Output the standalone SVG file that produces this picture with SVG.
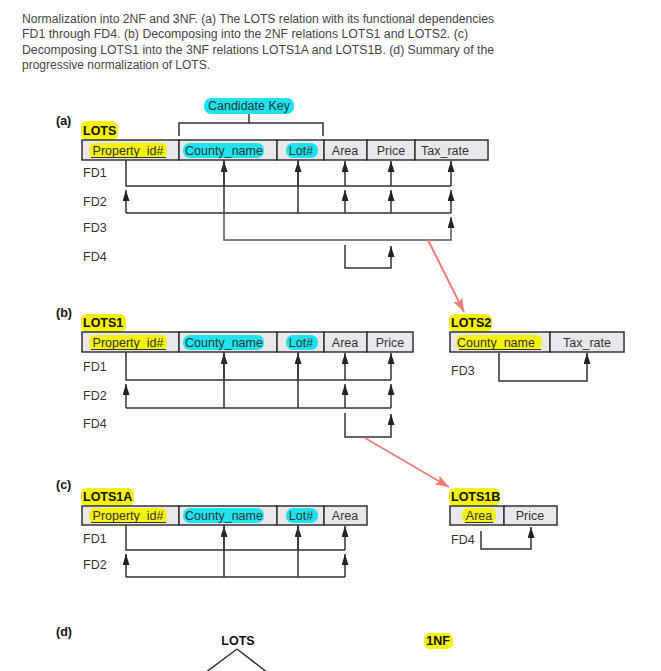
<svg xmlns="http://www.w3.org/2000/svg" width="661" height="671" viewBox="0 0 661 671">
<defs>
<style>
text{font-family:"Liberation Sans",Arial,sans-serif;fill:#333}
.cap{font-size:12px;fill:#444}
.lbl{font-size:12.5px}
.b{font-weight:bold;fill:#111}
.cell{fill:#e8e8ec;stroke:#333;stroke-width:1.5}
.ln{fill:none;stroke:#333;stroke-width:1.5}
.ar{fill:none;stroke:#333;stroke-width:1.5;marker-end:url(#ah)}
.yl{fill:#f4f20a}
.cy{fill:#1fe3ec}
.red{fill:none;stroke:#f77b7b;stroke-width:2;marker-end:url(#rh)}
.ul{stroke:#333;stroke-width:1}
</style>
<marker id="ah" viewBox="0 0 11 7" refX="11" refY="3.5" markerWidth="11" markerHeight="7" markerUnits="userSpaceOnUse" orient="auto"><path d="M0,0 L11,3.5 L0,7 z" fill="#222"/></marker>
<marker id="rh" viewBox="0 0 14 10" refX="14" refY="5" markerWidth="14" markerHeight="10" markerUnits="userSpaceOnUse" orient="auto"><path d="M0,0 L14,5 L0,10 L3,5 z" fill="#f77b7b"/></marker>
</defs>
<rect width="661" height="671" fill="#fff"/>

<g id="caption">
<text class="cap" x="22" y="23" textLength="472" lengthAdjust="spacingAndGlyphs">Normalization into 2NF and 3NF. (a) The LOTS relation with its functional dependencies</text>
<text class="cap" x="22" y="38" textLength="446" lengthAdjust="spacingAndGlyphs">FD1 through FD4. (b) Decomposing into the 2NF relations LOTS1 and LOTS2. (c)</text>
<text class="cap" x="22" y="54" textLength="472" lengthAdjust="spacingAndGlyphs">Decomposing LOTS1 into the 3NF relations LOTS1A and LOTS1B. (d) Summary of the</text>
<text class="cap" x="22" y="69" textLength="188" lengthAdjust="spacingAndGlyphs">progressive normalization of LOTS.</text>
</g>

<!-- (a) -->
<g id="section-a">
<text class="lbl b" x="56" y="125">(a)</text>
<rect class="cy" x="204" y="98" width="90" height="16" rx="7"/>
<text class="lbl" x="249" y="110" text-anchor="middle">Candidate Key</text>
<path class="ln" d="M179,136 V123 H323 V136 M249,123 V114"/>
<rect class="yl" x="81" y="121" width="37" height="19" rx="6"/>
<text class="lbl b" x="83" y="135">LOTS</text>
<g id="LOTS">
<rect class="cell" x="82" y="140" width="97" height="20"/>
<rect class="cell" x="179" y="140" width="98" height="20"/>
<rect class="cell" x="277" y="140" width="47" height="20"/>
<rect class="cell" x="324" y="140" width="43" height="20"/>
<rect class="cell" x="367" y="140" width="48" height="20"/>
<rect class="cell" x="415" y="140" width="73" height="20"/>
<rect class="yl" x="89" y="143" width="78" height="15" rx="6"/>
<rect class="cy" x="183" y="143" width="81" height="15" rx="7"/>
<rect class="cy" x="286" y="143" width="32" height="15" rx="7"/>
<text class="lbl" x="128" y="155" text-anchor="middle">Property_id#</text>
<line class="ul" x1="91" y1="157.5" x2="166" y2="157.5"/>
<text class="lbl" x="224" y="155" text-anchor="middle">County_name</text>
<text class="lbl" x="301" y="155" text-anchor="middle">Lot#</text>
<text class="lbl" x="345" y="155" text-anchor="middle">Area</text>
<text class="lbl" x="391" y="155" text-anchor="middle">Price</text>
<text class="lbl" x="445" y="155" text-anchor="middle">Tax_rate</text>
</g>
<text class="lbl" x="83" y="177">FD1</text>
<text class="lbl" x="83" y="206">FD2</text>
<text class="lbl" x="83" y="232">FD3</text>
<text class="lbl" x="83" y="261">FD4</text>
</g>

<!-- (b) -->
<g id="section-b">
<text class="lbl b" x="56" y="317">(b)</text>
<rect class="yl" x="81" y="314" width="45" height="18" rx="6"/>
<text class="lbl b" x="83" y="327">LOTS1</text>
<g id="LOTS1">
<rect class="cell" x="82" y="332" width="97" height="20"/>
<rect class="cell" x="179" y="332" width="98" height="20"/>
<rect class="cell" x="277" y="332" width="47" height="20"/>
<rect class="cell" x="324" y="332" width="43" height="20"/>
<rect class="cell" x="367" y="332" width="46" height="20"/>
<rect class="yl" x="89" y="335" width="78" height="15" rx="6"/>
<rect class="cy" x="183" y="335" width="81" height="15" rx="7"/>
<rect class="cy" x="286" y="335" width="32" height="15" rx="7"/>
<text class="lbl" x="128" y="347" text-anchor="middle">Property_id#</text>
<line class="ul" x1="91" y1="349.5" x2="166" y2="349.5"/>
<text class="lbl" x="224" y="347" text-anchor="middle">County_name</text>
<text class="lbl" x="301" y="347" text-anchor="middle">Lot#</text>
<text class="lbl" x="345" y="347" text-anchor="middle">Area</text>
<text class="lbl" x="390" y="347" text-anchor="middle">Price</text>
</g>
<text class="lbl" x="83" y="371">FD1</text>
<text class="lbl" x="83" y="400">FD2</text>
<text class="lbl" x="83" y="428">FD4</text>

<rect class="yl" x="449" y="314" width="43" height="18" rx="6"/>
<text class="lbl b" x="451" y="327">LOTS2</text>
<g id="LOTS2">
<rect class="cell" x="450" y="332" width="100" height="20"/>
<rect class="cell" x="550" y="332" width="74" height="20"/>
<rect class="yl" x="456" y="335" width="86" height="15" rx="6"/>
<text class="lbl" x="496" y="347" text-anchor="middle">County_name</text>
<line class="ul" x1="459" y1="349.5" x2="541" y2="349.5"/>
<text class="lbl" x="587" y="347" text-anchor="middle">Tax_rate</text>
</g>
<text class="lbl" x="451" y="375">FD3</text>
</g>

<!-- (c) -->
<g id="section-c">
<text class="lbl b" x="56" y="489">(c)</text>
<rect class="yl" x="81" y="488" width="53" height="18" rx="6"/>
<text class="lbl b" x="83" y="501">LOTS1A</text>
<g id="LOTS1A">
<rect class="cell" x="82" y="506" width="97" height="19"/>
<rect class="cell" x="179" y="506" width="98" height="19"/>
<rect class="cell" x="277" y="506" width="47" height="19"/>
<rect class="cell" x="324" y="506" width="43" height="19"/>
<rect class="yl" x="89" y="508" width="78" height="15" rx="6"/>
<rect class="cy" x="183" y="508" width="81" height="15" rx="7"/>
<rect class="cy" x="286" y="508" width="32" height="15" rx="7"/>
<text class="lbl" x="128" y="520" text-anchor="middle">Property_id#</text>
<line class="ul" x1="91" y1="522.5" x2="166" y2="522.5"/>
<text class="lbl" x="224" y="520" text-anchor="middle">County_name</text>
<text class="lbl" x="301" y="520" text-anchor="middle">Lot#</text>
<text class="lbl" x="345" y="520" text-anchor="middle">Area</text>
</g>
<text class="lbl" x="83" y="543">FD1</text>
<text class="lbl" x="83" y="569">FD2</text>

<rect class="yl" x="449" y="488" width="51" height="18" rx="6"/>
<text class="lbl b" x="451" y="501">LOTS1B</text>
<g id="LOTS1B">
<rect class="cell" x="450" y="506" width="54" height="19"/>
<rect class="cell" x="504" y="506" width="53" height="19"/>
<rect class="yl" x="462" y="508" width="34" height="15" rx="6"/>
<text class="lbl" x="479" y="520" text-anchor="middle">Area</text>
<line class="ul" x1="465" y1="522.5" x2="493" y2="522.5"/>
<text class="lbl" x="530" y="520" text-anchor="middle">Price</text>
</g>
<text class="lbl" x="451" y="544">FD4</text>
</g>

<!-- (d) -->
<g id="section-d">
<text class="lbl b" x="56" y="636">(d)</text>
<text class="lbl b" x="238" y="645" text-anchor="middle">LOTS</text>
<rect class="yl" x="424" y="633" width="29" height="16" rx="6"/>
<text class="lbl b" x="438" y="645" text-anchor="middle">1NF</text>
<path class="ln" d="M237,649 L205,673 M237,649 L268,673"/>
</g>

<g id="connectors">
<!-- (a) FD1 -->
<path class="ln" d="M126,160 V186 H451"/>
<path class="ar" d="M224,186 V161"/>
<path class="ar" d="M298,186 V161"/>
<path class="ar" d="M345,186 V161"/>
<path class="ar" d="M391,186 V161"/>
<path class="ar" d="M451,186 V161"/>
<!-- (a) FD2 -->
<path class="ln" d="M224,160 V213 M298,160 V213 M126,213 H451"/>
<path class="ar" d="M126,213 V190"/>
<path class="ar" d="M345,213 V190"/>
<path class="ar" d="M391,213 V190"/>
<path class="ar" d="M451,213 V190"/>
<!-- (a) FD3 -->
<path class="ar" d="M224,213 V240 H451 V217" style="stroke:#555"/>
<!-- (a) FD4 -->
<path class="ar" d="M345,245 V268 H391 V246"/>

<!-- (b) FD1 -->
<path class="ln" d="M126,352 V380 H391"/>
<path class="ar" d="M224,380 V353"/>
<path class="ar" d="M298,380 V353"/>
<path class="ar" d="M345,380 V353"/>
<path class="ar" d="M391,380 V353"/>
<!-- (b) FD2 -->
<path class="ln" d="M224,352 V408 M298,352 V408 M126,408 H391"/>
<path class="ar" d="M126,408 V384"/>
<path class="ar" d="M345,408 V384"/>
<path class="ar" d="M391,408 V384"/>
<!-- (b) FD4 -->
<path class="ar" d="M345,413 V437 H391 V414"/>
<!-- LOTS2 FD3 -->
<path class="ar" d="M499,353 V381 H587 V353"/>

<!-- (c) FD1 -->
<path class="ln" d="M126,525 V550 H345"/>
<path class="ar" d="M224,550 V526"/>
<path class="ar" d="M298,550 V526"/>
<path class="ar" d="M345,550 V526"/>
<!-- (c) FD2 -->
<path class="ln" d="M224,525 V577 M298,525 V577 M126,577 H345"/>
<path class="ar" d="M126,577 V554"/>
<path class="ar" d="M345,577 V554"/>
<!-- LOTS1B FD4 -->
<path class="ar" d="M481,531 V549 H531 V527"/>

<!-- red decomposition arrows -->
<path class="red" d="M428,240 L464,312"/>
<path class="red" d="M365,438 L449,487"/>
</g>
</svg>
